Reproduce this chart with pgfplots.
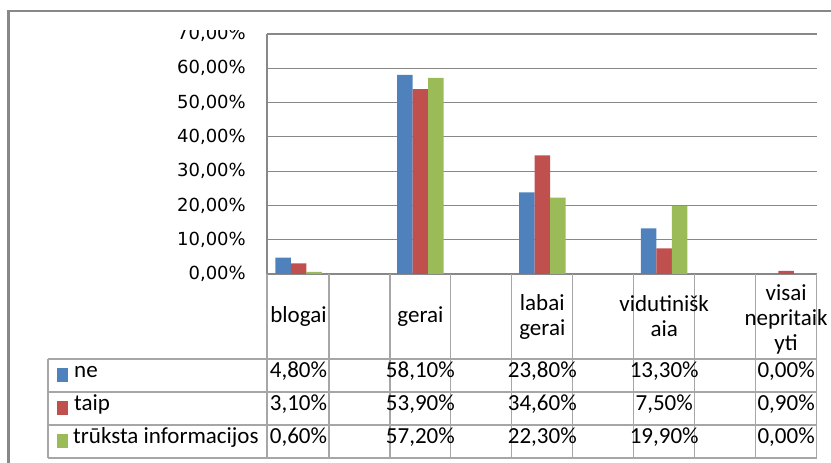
\documentclass[border=0pt]{standalone}
\usepackage{pgfplots}
\pgfplotsset{compat=1.18}
\usepackage{fontspec}
\setmainfont{Carlito}
\newfontfamily\tickfont{DejaVu Sans}

\definecolor{sne}{HTML}{4F81BD}
\definecolor{staip}{HTML}{C0504D}
\definecolor{strk}{HTML}{9BBB59}
\definecolor{gridc}{HTML}{888888}
\definecolor{tabc}{HTML}{A6A6A6}

% pixel x of a category position (1bp = 1px of the reference)
\newcommand{\catx}[1]{298.5+121.9*(#1)}

\begin{document}
\begin{tikzpicture}
\path[use as bounding box] (0bp,0bp) rectangle (831bp,463bp);

\begin{axis}[
  at={(267bp,189bp)}, anchor=south west,
  scale only axis, width=550bp, height=240bp,
  ybar=0pt, bar width=15.5bp,
  xmin=-0.2584, xmax=4.2535,
  ymin=0, ymax=70,
  xtick=\empty,
  ytick={0,10,20,30,40,50,60,70},
  yticklabels={{0,00\%},{10,00\%},{20,00\%},{30,00\%},{40,00\%},{50,00\%},{60,00\%},{70,00\%}},
  yticklabel style={font=\tickfont\fontsize{18bp}{20bp}\selectfont, inner sep=0pt, xshift=-21bp},
  ytick style={draw=none},
  ymajorgrids, grid style={gridc, line width=1.2bp},
  axis lines*=left, axis line style={-, gridc, line width=1.2bp},
  clip=false,
]
\addplot[fill=sne, draw=none] coordinates {(0,4.8) (1,58.1) (2,23.8) (3,13.3) (4,0.0)};
\addplot[fill=staip, draw=none] coordinates {(0,3.1) (1,53.9) (2,34.6) (3,7.5) (4,0.9)};
\addplot[fill=strk, draw=none] coordinates {(0,0.6) (1,57.2) (2,22.3) (3,19.9) (4,0.0)};
\end{axis}

\begin{scope}[x=1bp, y=1bp]
% mask cutting the top of the 70,00% label
\fill[white] (150,433) rectangle (262,450.5);

% data table
\begin{scope}[tabc, line width=1.2bp]
  \foreach \y in {104,71,38,5} \draw (48,\y) -- (817,\y);
  \draw (48,104) -- (48,5);
  \draw (267,189) -- (267,5);
  \foreach \v in {0.25,0.75,1.25,1.75,2.25,2.75,3.25,3.75,4.25}
    \draw ({\catx{\v}},189) -- ({\catx{\v}},5);
\end{scope}

\begin{scope}[font=\fontsize{23bp}{25bp}\selectfont, align=center]
  \node at ({\catx{0}},146.5) {blogai};
  \node at ({\catx{1}},146.5) {gerai};
  \node at ({\catx{2}},146.5) {labai\\gerai};
  \node at ({\catx{3}},146.5) {vidutinišk\\aia};
  \node at ({\catx{4}},144) {visai\\nepritaik\\yti};

  \fill[sne] (57,81) rectangle (68,95);
  \fill[staip] (57,48) rectangle (68,62);
  \fill[strk] (57,15) rectangle (68,29);
  \node[anchor=mid west, inner sep=0pt] at (74,87.5) {ne};
  \node[anchor=mid west, inner sep=0pt] at (74,54.5) {taip};
  \node[anchor=mid west, inner sep=0pt] at (73,21.5) {trūksta informacijos};

  \foreach \k/\a/\b/\c in {0/{4,80\%}/{3,10\%}/{0,60\%},
                            1/{58,10\%}/{53,90\%}/{57,20\%},
                            2/{23,80\%}/{34,60\%}/{22,30\%},
                            3/{13,30\%}/{7,50\%}/{19,90\%},
                            4/{0,00\%}/{0,90\%}/{0,00\%}} {
    \node[anchor=mid] at ({\catx{\k}},87.5) {\a};
    \node[anchor=mid] at ({\catx{\k}},54.5) {\b};
    \node[anchor=mid] at ({\catx{\k}},21.5) {\c};
  }
\end{scope}

% outer chart frame
\draw[gridc, line width=2bp] (8.5,0) -- (8.5,452) -- (831,452);
\end{scope}
\end{tikzpicture}
\end{document}
